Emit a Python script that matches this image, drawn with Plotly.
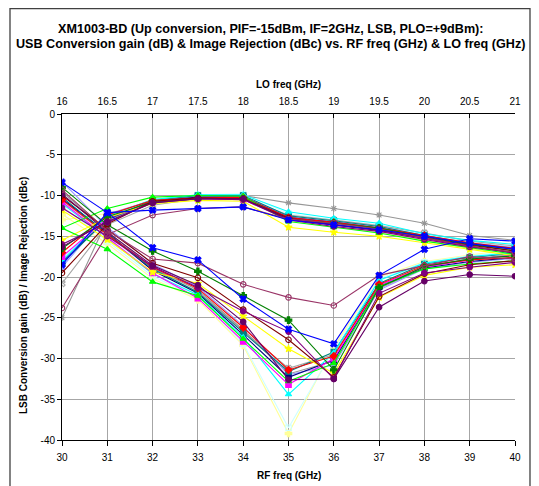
import plotly.graph_objects as go

# ---------------- data ----------------
rf_freq = [30, 31, 32, 33, 34, 35, 36, 37, 38, 39, 40]
lo_ticks = [16, 16.5, 17, 17.5, 18, 18.5, 19, 19.5, 20, 20.5, 21]
lo_tick_text = ["16", "16.5", "17", "17.5", "18", "18.5", "19", "19.5", "20", "20.5", "21"]
rf_tick_text = ["30", "31", "32", "33", "34", "35", "36", "37", "38", "39", "40"]
y_tick_vals = [0, -5, -10, -15, -20, -25, -30, -35, -40]
y_tick_text = ["0", "-5", "-10", "-15", "-20", "-25", "-30", "-35", "-40"]

# conversion gain (dB) per measured part
gain_blue = [-18.5, -12.1, -11.8, -11.6, -11.4, -13.0, -13.6, -14.2, -15.0, -15.9, -16.6]
gain_mauve = [-23.8, -14.8, -12.4, -11.6, -11.4, -12.9, -13.4, -14.1, -15.2, -16.2, -17.0]
gain_green = [-14.0, -11.6, -10.2, -10.0, -10.1, -13.2, -13.9, -14.6, -15.6, -16.4, -17.2]
gain_dkgreen = [-16.5, -12.6, -10.8, -10.4, -10.4, -12.9, -13.4, -14.0, -15.1, -16.0, -16.8]
gain_red = [-17.0, -12.4, -10.6, -10.3, -10.2, -12.7, -13.3, -14.0, -14.9, -15.8, -16.5]
gain_yellow = [-15.5, -12.7, -11.0, -10.6, -10.7, -13.9, -14.5, -15.0, -15.8, -16.6, -17.4]
gain_purple = [-16.0, -13.3, -10.9, -10.4, -10.5, -13.0, -13.8, -14.4, -15.4, -16.3, -17.0]
gain_maroon = [-19.5, -13.5, -10.7, -10.3, -10.4, -12.8, -13.6, -14.2, -15.2, -16.1, -16.8]
gain_cyan = [-18.0, -12.5, -10.5, -9.9, -9.9, -12.0, -12.8, -13.4, -14.7, -15.5, -16.0]
gain_magenta = [-17.5, -12.8, -10.8, -10.4, -10.5, -12.9, -13.5, -14.3, -15.3, -16.3, -17.0]
gain_teal = [-18.3, -12.9, -10.6, -10.0, -10.0, -12.5, -13.1, -13.8, -14.9, -15.9, -16.5]
gain_gray = [-25.0, -13.0, -10.9, -10.3, -10.0, -10.9, -11.6, -12.4, -13.4, -14.9, -15.5]
gain_silver = [-20.8, -13.6, -11.2, -10.4, -10.3, -12.4, -13.0, -13.7, -14.6, -15.6, -16.2]
gain_ltcyan = [-17.7, -12.6, -10.5, -9.9, -9.8, -12.2, -13.0, -13.6, -14.8, -15.8, -16.3]
gain_ltyellow = [-13.0, -12.2, -10.8, -10.3, -10.4, -13.1, -13.8, -14.6, -15.5, -16.5, -17.3]
gain_lavender = [-18.8, -12.3, -10.6, -10.1, -10.1, -12.6, -13.2, -13.8, -14.9, -15.8, -16.4]
gain_navy = [-18.2, -12.9, -10.7, -10.2, -10.2, -12.7, -13.3, -14.0, -15.0, -16.0, -16.6]
gain_dkpurple = [-16.3, -13.2, -10.9, -10.4, -10.4, -12.9, -13.6, -14.3, -15.2, -16.2, -17.1]

# image rejection (dBc) per measured part
ir_blue = [-8.4, -12.1, -16.4, -17.9, -22.7, -26.4, -28.2, -19.8, -16.6, -15.3, -15.6]
ir_mauve = [-9.3, -14.3, -17.8, -18.3, -20.9, -22.5, -23.5, -19.8, -18.6, -17.5, -17.8]
ir_green = [-14.0, -16.6, -20.6, -22.3, -27.6, -32.8, -30.6, -21.2, -19.0, -18.4, -18.0]
ir_dkgreen = [-9.0, -13.6, -16.8, -19.3, -22.3, -25.3, -31.4, -21.3, -18.7, -17.8, -17.4]
ir_red = [-10.5, -14.8, -18.8, -21.4, -26.2, -31.4, -29.7, -20.9, -18.6, -17.9, -17.6]
ir_yellow = [-11.8, -15.4, -19.4, -20.8, -24.8, -28.8, -31.8, -22.5, -19.8, -18.8, -18.5]
ir_purple = [-11.5, -15.0, -18.7, -21.3, -24.2, -26.7, -32.5, -22.0, -19.5, -18.8, -18.2]
ir_maroon = [-10.0, -14.2, -18.3, -20.1, -24.0, -27.7, -32.3, -22.4, -19.6, -18.5, -18.0]
ir_cyan = [-11.0, -15.2, -19.6, -22.2, -27.4, -34.4, -29.3, -20.4, -18.3, -17.5, -17.0]
ir_magenta = [-10.8, -15.1, -19.5, -22.6, -27.9, -33.2, -30.0, -21.0, -18.8, -17.9, -17.3]
ir_teal = [-10.2, -14.7, -19.0, -21.9, -26.8, -31.6, -29.2, -20.8, -18.4, -17.6, -17.1]
ir_gray = [-9.5, -14.4, -18.9, -21.6, -26.5, -31.9, -30.3, -21.4, -18.9, -17.7, -16.9]
ir_silver = [-10.6, -14.9, -19.1, -21.8, -26.6, -31.2, -29.5, -21.1, -18.7, -17.8, -17.2]
ir_ltcyan = [-11.3, -15.6, -19.9, -22.5, -28.2, -38.5, -28.9, -20.2, -18.2, -17.4, -16.8]
ir_ltyellow = [-12.3, -15.9, -20.2, -22.8, -28.4, -39.2, -28.6, -20.0, -18.1, -17.3, -16.6]
ir_lavender = [-8.3, -13.9, -18.4, -21.2, -26.0, -32.0, -30.8, -21.6, -19.0, -18.2, -17.7]
ir_navy = [-10.4, -14.6, -19.2, -22.0, -27.1, -32.3, -30.2, -21.2, -18.9, -18.1, -17.6]
ir_dkpurple = [-9.8, -14.5, -18.6, -21.0, -25.5, -32.6, -32.5, -23.7, -20.5, -19.7, -19.9]

# ---------------- styles ----------------
parts = [
    (gain_ltyellow, ir_ltyellow, "#FFFF99", "cross"),
    (gain_ltcyan, ir_ltcyan, "#CCFFFF", "square-open"),
    (gain_silver, ir_silver, "#A6A6A6", "x-open"),
    (gain_gray, ir_gray, "#969696", "asterisk-open"),
    (gain_lavender, ir_lavender, "#9999FF", "x"),
    (gain_navy, ir_navy, "#000080", "square"),
    (gain_teal, ir_teal, "#008080", "square"),
    (gain_cyan, ir_cyan, "#00FFFF", "triangle-up"),
    (gain_magenta, ir_magenta, "#FF00FF", "square"),
    (gain_red, ir_red, "#FF0000", "diamond"),
    (gain_yellow, ir_yellow, "#FFFF00", "star"),
    (gain_green, ir_green, "#00FF00", "triangle-up"),
    (gain_dkgreen, ir_dkgreen, "#008000", "cross"),
    (gain_maroon, ir_maroon, "#800000", "circle-open"),
    (gain_purple, ir_purple, "#800080", "circle"),
    (gain_dkpurple, ir_dkpurple, "#660066", "circle"),
    (gain_mauve, ir_mauve, "#993366", "circle-open"),
    (gain_blue, ir_blue, "#0000FF", "x"),
]

fig = go.Figure()
for gain, ir, col, sym in parts:
    for ys in (gain, ir):
        fig.add_trace(go.Scatter(
            x=rf_freq, y=ys, mode="lines+markers",
            line=dict(color=col, width=1.1),
            marker=dict(symbol=sym, size=5.5, color=col,
                        line=dict(color=col, width=1.1)),
            showlegend=False, hoverinfo="skip"))

# invisible trace to activate top LO axis
fig.add_trace(go.Scatter(x=lo_ticks, y=[None] * len(lo_ticks), xaxis="x2",
                         mode="markers", showlegend=False, hoverinfo="skip"))

FONT = "Liberation Sans, Arial, sans-serif"
# the page body has an 8px margin, so the figure is 8px smaller on each side
fig.update_layout(
    width=531, height=478,
    margin=dict(l=54, r=24, t=106, b=46),
    paper_bgcolor="white", plot_bgcolor="white",
    font=dict(family=FONT, size=10, color="black"),
    showlegend=False,
    xaxis=dict(range=[30, 40], tickvals=rf_freq, ticktext=rf_tick_text,
               showgrid=True, gridcolor="#A6A6A6", gridwidth=1,
               showline=True, linecolor="black", linewidth=1,
               ticks="outside", ticklen=5, tickcolor="black",
               ticklabelstandoff=3,
               zeroline=False, tickfont=dict(size=10)),
    xaxis2=dict(range=[16, 21], overlaying="x", side="top", anchor="y",
                tickvals=lo_ticks, ticktext=lo_tick_text,
                showgrid=False, showline=True, linecolor="black", linewidth=1,
                ticks="inside", ticklen=4, tickcolor="black",
                ticklabelstandoff=4,
                zeroline=False, tickfont=dict(size=10)),
    yaxis=dict(range=[-40, 0], tickvals=y_tick_vals, ticktext=y_tick_text,
               showgrid=True, gridcolor="#A6A6A6", gridwidth=1,
               showline=True, linecolor="black", linewidth=1,
               ticks="outside", ticklen=4, tickcolor="black",
               zeroline=False, tickfont=dict(size=10)),
)

# chart border
fig.add_shape(type="rect", xref="paper", yref="paper",
              x0=-0.1148, x1=1.0331, y0=-0.2, y1=1.3236,
              line=dict(color="#404040", width=1.3), layer="below")

ann = [
    dict(text="<b>XM1003-BD (Up conversion, PIF=-15dBm, IF=2GHz, LSB, PLO=+9dBm):</b>",
         x=0.4592, y=1.2598, size=12.6),
    dict(text="<b>USB Conversion gain (dB) &amp; Image Rejection (dBc) vs. RF freq (GHz) &amp; LO freq (GHz)</b>",
         x=0.4592, y=1.2138, size=12.6),
    dict(text="<b>LO freq (GHz)</b>", x=0.5, y=1.092, size=10),
    dict(text="<b>RF freq (GHz)</b>", x=0.5, y=-0.1074, size=10),
]
for a in ann:
    fig.add_annotation(text=a["text"], x=a["x"], y=a["y"], xref="paper", yref="paper",
                       xanchor="center", yanchor="middle", showarrow=False,
                       font=dict(family=FONT, size=a["size"], color="black"))
fig.add_annotation(text="<b>LSB Conversion gain (dB) / Image Rejection (dBc)</b>",
                   x=-0.0839, y=0.4448, xref="paper", yref="paper", textangle=-90,
                   xanchor="center", yanchor="middle", showarrow=False,
                   font=dict(family=FONT, size=10, color="black"))

fig.write_html("out.html")
